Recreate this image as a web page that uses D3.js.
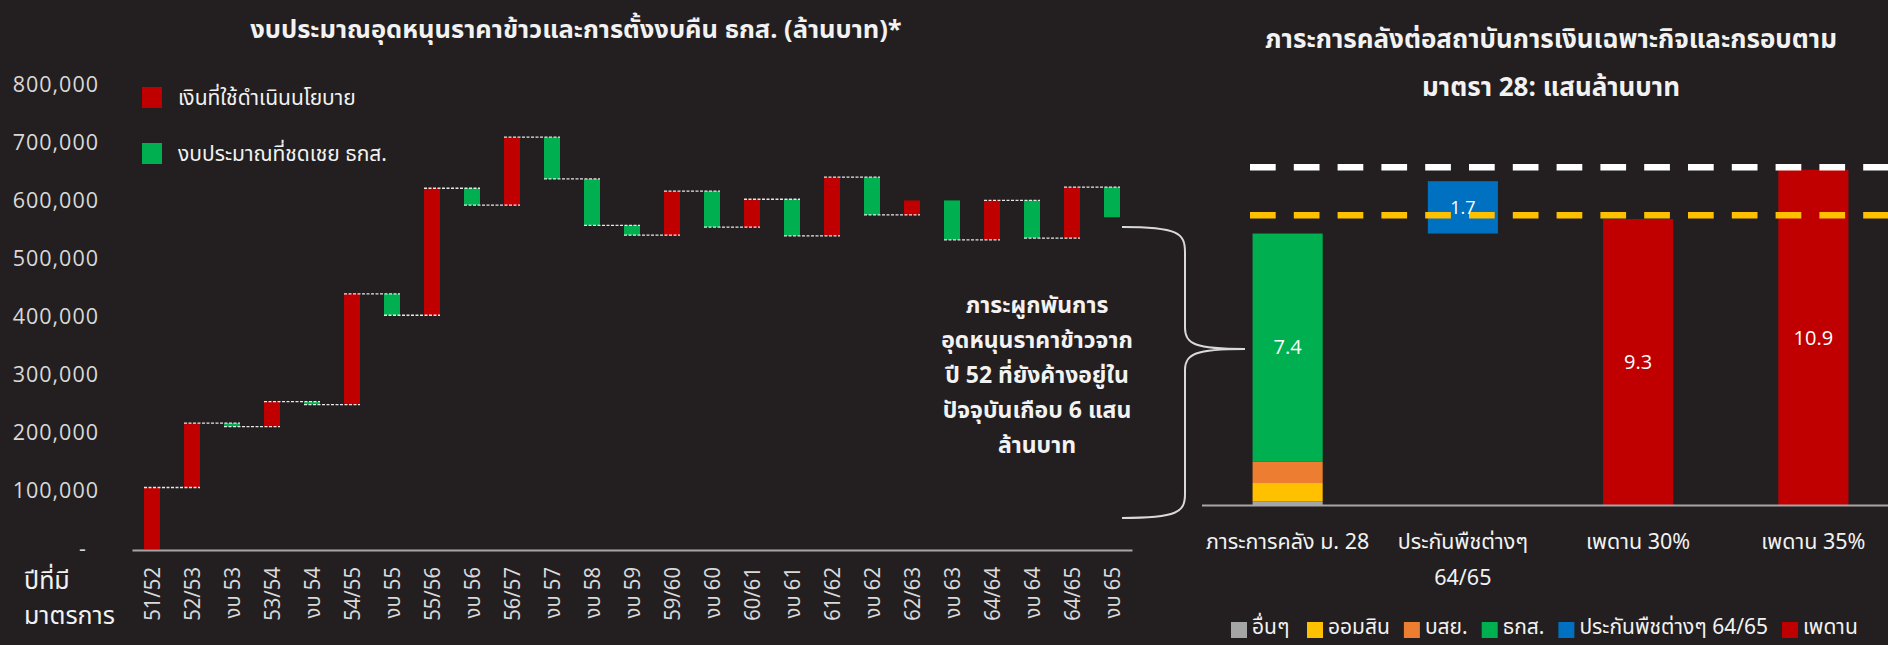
<!DOCTYPE html>
<html>
<head>
<meta charset="utf-8">
<script src="https://cdn.jsdelivr.net/npm/d3@7"></script>
<style>
    body { margin: 0; background: #231f20; }
    svg  { display: block; }
</style>
</head>
<body>
<svg id="chart" width="1888" height="645"></svg>
<script>
'use strict';

// ---- left chart: rice subsidy budget (million baht) ----
const periods = ['51/52','52/53','งบ 53','53/54','งบ 54','54/55','งบ 55','55/56','งบ 56','56/57','งบ 57',
                 'งบ 58','งบ 59','59/60','งบ 60','60/61','งบ 61','61/62','งบ 62','62/63','งบ 63','64/64',
                 'งบ 64','64/65','งบ 65'];
const balance = [106000, 217000, 211000, 254000, 249000, 440000, 403000, 622000, 593000, 710000, 638000,
                 558000, 541000, 617000, 555000, 603000, 540000, 641000, 576000, 601000, 533000, 601000,
                 536000, 624000, 572000];
const noLink  = ['62/63', 'งบ 65'];
const yTicks  = [0, 100000, 200000, 300000, 400000, 500000, 600000, 700000, 800000];
const legendLeft = ['เงินที่ใช้ดำเนินนโยบาย', 'งบประมาณที่ชดเชย ธกส.'];
const titleLeft  = 'งบประมาณอุดหนุนราคาข้าวและการตั้งงบคืน ธกส. (ล้านบาท)*';
const noteLines  = ['ภาระผูกพันการ', 'อุดหนุนราคาข้าวจาก', 'ปี 52 ที่ยังค้างอยู่ใน', 'ปัจจุบันเกือบ 6 แสน', 'ล้านบาท'];

// ---- right chart: fiscal burden under section 28 (hundred-billion baht) ----
const burdenCats   = ['ภาระการคลัง ม. 28', 'ประกันพืชต่างๆ\n64/65', 'เพดาน 30%', 'เพดาน 35%'];
const lenderKeys   = ['อื่นๆ', 'ออมสิน', 'บสย.', 'ธกส.'];
const lenderVals   = [0.13, 0.6, 0.7, 7.4];
const cropScheme   = 1.7;
const ceilings     = [9.3, 10.9];
const ceilingLines = [9.42, 10.98];
const legendRight  = ['อื่นๆ', 'ออมสิน', 'บสย.', 'ธกส.', 'ประกันพืชต่างๆ 64/65', 'เพดาน'];
const titleRight   = ['ภาระการคลังต่อสถาบันการเงินเฉพาะกิจและกรอบตาม', 'มาตรา 28: แสนล้านบาท'];

const RED = '#c00000', GREEN = '#00b050';
const rightColors = ['#a5a5a5', '#ffc000', '#ed7d31', '#00b050', '#0070c0', '#c00000'];
const TXT  = '#f2f2f2';
const THAI = "'Noto Sans Thai','Noto Sans','Open Sans',sans-serif";
const NUM  = "'Open Sans','Noto Sans',sans-serif";

const svg = d3.select('#chart');

// ================= left =================
const x = d3.scaleBand().domain(periods).range([132, 1132]).paddingInner(0.6).paddingOuter(0.3);
const y = d3.scaleLinear().domain([0, 800000]).range([549, 85]);

const rows = periods.map((p, i) => ({
    p,
    from: i ? balance[i - 1] : 0,
    to:   balance[i]
}));

svg.append('text')
    .attr('x', 576).attr('y', 38)
    .attr('text-anchor', 'middle')
    .style('font-family', THAI).style('font-size', '25.5px').style('font-weight', 'bold')
    .style('fill', TXT)
    .text(titleLeft);

// y axis
const yAxis = svg.append('g')
    .attr('transform', 'translate(99,0)')
    .call(d3.axisLeft(y).tickValues(yTicks).tickSize(0).tickPadding(0)
        .tickFormat(d => d === 0 ? '-' : d3.format(',')(d)));
yAxis.select('.domain').remove();
yAxis.selectAll('text')
    .style('font-family', NUM).style('font-size', '21.5px').style('letter-spacing', '1px')
    .style('fill', '#d9d9d9')
    .attr('dx', d => d === 0 ? -12 : 0);

// bars
svg.append('g').selectAll('rect')
    .data(rows)
    .enter()
    .append('rect')
    .attr('x', d => x(d.p))
    .attr('width', x.bandwidth())
    .attr('y', d => y(Math.max(d.from, d.to)))
    .attr('height', d => Math.abs(y(d.from) - y(d.to)))
    .style('fill', d => d.to >= d.from ? RED : GREEN);

// dashed links between steps
svg.append('g').selectAll('line')
    .data(rows.filter((d, i) => i < rows.length - 1 && noLink.indexOf(d.p) < 0))
    .enter()
    .append('line')
    .attr('x1', d => x(d.p))
    .attr('x2', d => x(periods[periods.indexOf(d.p) + 1]) + x.bandwidth())
    .attr('y1', d => y(d.to))
    .attr('y2', d => y(d.to))
    .style('stroke', '#e6e6e6').style('stroke-width', 1.3).style('stroke-dasharray', '3,1.5');

// x axis
const sx = 0.92;
const xAxis = svg.append('g')
    .attr('transform', 'translate(0,550)')
    .call(d3.axisBottom(x).tickSize(0));
xAxis.select('.domain').style('stroke', '#a6a6a6').style('stroke-width', 2);
xAxis.selectAll('text')
    .attr('transform', `rotate(-90) scale(${sx},1)`)
    .attr('x', -17 / sx).attr('y', 0).attr('dy', '0.36em')
    .style('text-anchor', 'end')
    .style('font-family', THAI).style('font-size', '22px').style('fill', '#d9d9d9');

svg.append('text').attr('x', 24).attr('y', 589)
    .style('font-family', THAI).style('font-size', '25px').style('fill', TXT).text('ปีที่มี');
svg.append('text').attr('x', 24).attr('y', 624)
    .style('font-family', THAI).style('font-size', '25px').style('fill', TXT).text('มาตรการ');

// legend
const lg = svg.append('g').selectAll('g')
    .data(legendLeft)
    .enter()
    .append('g')
    .attr('transform', (d, i) => `translate(142,${87 + i * 56})`);
lg.append('rect').attr('width', 20).attr('height', 21).style('fill', (d, i) => i ? GREEN : RED);
lg.append('text').attr('x', 36).attr('y', 18)
    .style('font-family', THAI).style('font-size', '21px').style('fill', TXT)
    .text(d => d);

// brace + note
const br = d3.path();
br.moveTo(1122, 227);
br.bezierCurveTo(1178, 227, 1185, 233, 1185, 252);
br.lineTo(1185, 328);
br.bezierCurveTo(1185, 344, 1195, 349, 1245, 349);
br.bezierCurveTo(1195, 349, 1185, 354, 1185, 370);
br.lineTo(1185, 494);
br.bezierCurveTo(1185, 512, 1178, 518, 1122, 518);
svg.append('path').attr('d', br.toString())
    .style('fill', 'none').style('stroke', '#d9d9d9').style('stroke-width', 2);

svg.append('g').selectAll('text')
    .data(noteLines)
    .enter()
    .append('text')
    .attr('x', 1037)
    .attr('y', (d, i) => 313 + i * 35)
    .attr('text-anchor', 'middle')
    .style('font-family', THAI).style('font-size', '23px').style('font-weight', 'bold')
    .style('fill', TXT)
    .text(d => d);

// ================= right =================
const xr = d3.scaleBand().domain(burdenCats).range([1200, 1901]).paddingInner(0.6).paddingOuter(0.3);
const yr = d3.scaleLinear().domain([0, 12]).range([505.5, 135.9]);

svg.append('g').selectAll('text')
    .data(titleRight)
    .enter()
    .append('text')
    .attr('x', 1551)
    .attr('y', (d, i) => 48 + i * 48)
    .attr('text-anchor', 'middle')
    .style('font-family', THAI).style('font-size', '26px').style('font-weight', 'bold')
    .style('fill', TXT)
    .text(d => d);

const stackRow = {};
lenderKeys.forEach((k, i) => stackRow[k] = lenderVals[i]);
const series = d3.stack().keys(lenderKeys)([stackRow]);
const total = d3.sum(lenderVals);

svg.append('g').selectAll('rect')
    .data(series)
    .enter()
    .append('rect')
    .attr('x', xr(burdenCats[0]))
    .attr('width', xr.bandwidth())
    .attr('y', d => yr(d[0][1]))
    .attr('height', d => yr(d[0][0]) - yr(d[0][1]))
    .style('fill', (d, i) => rightColors[i]);

const solo = [
    { c: burdenCats[1], lo: total, hi: total + cropScheme, v: cropScheme, col: rightColors[4], fs: 18 },
    { c: burdenCats[2], lo: 0, hi: ceilings[0], v: ceilings[0], col: rightColors[5], fs: 20 },
    { c: burdenCats[3], lo: 0, hi: ceilings[1], v: ceilings[1], col: rightColors[5], fs: 20 }
];
svg.append('g').selectAll('rect')
    .data(solo)
    .enter()
    .append('rect')
    .attr('x', d => xr(d.c))
    .attr('width', xr.bandwidth())
    .attr('y', d => yr(d.hi))
    .attr('height', d => yr(d.lo) - yr(d.hi))
    .style('fill', d => d.col);

// ceiling guide lines
svg.append('g').selectAll('line')
    .data(ceilingLines)
    .enter()
    .append('line')
    .attr('x1', 1250).attr('x2', 1888)
    .attr('y1', d => yr(d)).attr('y2', d => yr(d))
    .style('stroke', (d, i) => i ? '#ffffff' : '#ffc000')
    .style('stroke-width', 6.5)
    .style('stroke-dasharray', '25.7,18.1');

// value labels
const vlab = [{ c: burdenCats[0], lo: total - lenderVals[3], hi: total, v: lenderVals[3], fs: 20 }].concat(solo);
svg.append('g').selectAll('text')
    .data(vlab)
    .enter()
    .append('text')
    .attr('x', d => xr(d.c) + xr.bandwidth() / 2)
    .attr('y', d => (yr(d.lo) + yr(d.hi)) / 2)
    .attr('dy', '0.35em')
    .attr('text-anchor', 'middle')
    .style('font-family', NUM).style('font-size', d => d.fs + 'px')
    .style('fill', '#ffffff')
    .text(d => d3.format('.1f')(d.v));

// right axis
const xrAxis = svg.append('g')
    .attr('transform', 'translate(0,505.5)')
    .call(d3.axisBottom(xr).tickSize(0).tickFormat(''));
xrAxis.select('.domain').attr('d', 'M1202,0H1888').style('stroke', '#a6a6a6').style('stroke-width', 2);

svg.append('g').selectAll('text')
    .data(burdenCats)
    .enter()
    .append('text')
    .attr('x', d => xr(d) + xr.bandwidth() / 2)
    .attr('y', 549)
    .attr('text-anchor', 'middle')
    .style('font-family', THAI).style('font-size', '21.5px').style('fill', TXT)
    .each(function (d)
    {
        d.split('\n').forEach((s, i) =>
            d3.select(this).append('tspan')
                .attr('x', xr(d) + xr.bandwidth() / 2)
                .attr('y', 549 + i * 36)
                .text(s));
    });

// bottom legend
const lr = svg.append('g').attr('transform', 'translate(1231,618)');
let cx = 0;
legendRight.forEach((name, i) =>
{
    lr.append('rect').attr('x', cx).attr('y', 4).attr('width', 16).attr('height', 16)
        .style('fill', rightColors[i]);
    const t = lr.append('text').attr('x', cx + 21).attr('y', 16)
        .style('font-family', THAI).style('font-size', '21px').style('fill', TXT)
        .text(name);
    cx += 21 + Math.max(t.node().getComputedTextLength(), 41) + 14;
});
</script>
</body>
</html>
